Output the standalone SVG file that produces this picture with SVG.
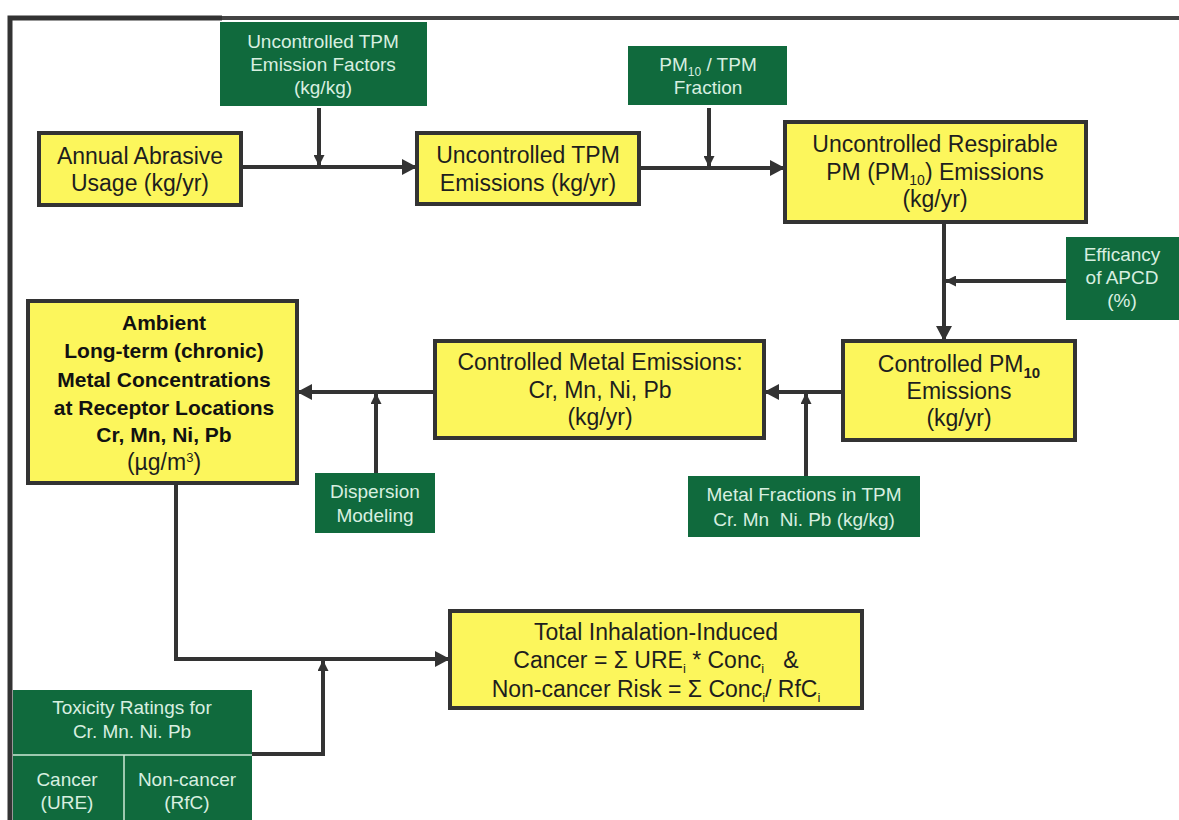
<svg xmlns="http://www.w3.org/2000/svg" width="1179" height="820" viewBox="0 0 1179 820">
<style>
.y{fill:#fcf65c;stroke:#333;stroke-width:4}
.g{fill:#106a3d}
.ty{font-family:"Liberation Sans",Arial,sans-serif;font-size:23px;fill:#1e1e1e;text-anchor:middle}
.tb{font-family:"Liberation Sans",Arial,sans-serif;font-size:21px;font-weight:bold;fill:#111;text-anchor:middle}
.tg{font-family:"Liberation Sans",Arial,sans-serif;font-size:19px;fill:#d8efe0;text-anchor:middle}
.c{fill:none;stroke:#333;stroke-width:4}
.f{fill:none;stroke:#333;stroke-width:5}
</style>
<defs>
<marker id="ab" markerUnits="userSpaceOnUse" markerWidth="15" markerHeight="16" refX="14" refY="8" orient="auto"><path d="M0,0 L15,8 L0,16 z" fill="#333"/></marker>
<marker id="as" markerUnits="userSpaceOnUse" markerWidth="11" markerHeight="11" refX="10" refY="5.5" orient="auto"><path d="M0,0 L11,5.5 L0,11 z" fill="#333"/></marker>
</defs>
<rect width="1179" height="820" fill="#fff"/>
<g id="frame">
<path class="f" d="M10,820 V18 H222"/>
<path d="M222,18 H1179" stroke="#444" stroke-width="4"/>
</g>
<g id="connectors">
<path class="c" d="M241,167 H416" marker-end="url(#ab)"/>
<path class="c" d="M319,108 V165" marker-end="url(#as)"/>
<path class="c" d="M639,168 H784" marker-end="url(#ab)"/>
<path class="c" d="M709,108 V166" marker-end="url(#as)"/>
<path class="c" d="M944,222 V340" marker-end="url(#ab)"/>
<path class="c" d="M1066,281 H946" marker-end="url(#as)"/>
<path class="c" d="M843,392 H765" marker-end="url(#ab)"/>
<path class="c" d="M806,476 V394" marker-end="url(#as)"/>
<path class="c" d="M435,392 H298" marker-end="url(#ab)"/>
<path class="c" d="M376,473 V394" marker-end="url(#as)"/>
<path class="c" d="M176,483 V659 H449" marker-end="url(#ab)"/>
<path class="c" d="M252,754 H323 V661" marker-end="url(#as)"/>
</g>
<g id="ef">
<rect class="g" x="220" y="22" width="207" height="84"/>
<text class="tg" x="323" y="48">Uncontrolled TPM</text>
<text class="tg" x="323" y="71">Emission Factors</text>
<text class="tg" x="323" y="94">(kg/kg)</text>
</g>
<g id="usage">
<rect class="y" x="39" y="133" width="202" height="72"/>
<text class="ty" x="140" y="164">Annual Abrasive</text>
<text class="ty" x="140" y="191">Usage (kg/yr)</text>
</g>
<g id="tpm">
<rect class="y" x="417" y="133" width="222" height="71"/>
<text class="ty" x="528" y="163">Uncontrolled TPM</text>
<text class="ty" x="528" y="191">Emissions (kg/yr)</text>
</g>
<g id="frac">
<rect class="g" x="628" y="46" width="159" height="59"/>
<text class="tg" x="708" y="71">PM<tspan font-size="12" dy="5">10</tspan><tspan dy="-5"> / TPM</tspan></text>
<text class="tg" x="708" y="94">Fraction</text>
</g>
<g id="resp">
<rect class="y" x="785" y="122" width="301" height="100"/>
<text class="ty" x="935" y="152">Uncontrolled Respirable</text>
<text class="ty" x="935" y="180">PM (PM<tspan font-size="14" dy="5">10</tspan><tspan dy="-5">) Emissions</tspan></text>
<text class="ty" x="935" y="207">(kg/yr)</text>
</g>
<g id="apcd">
<rect class="g" x="1066" y="237" width="113" height="83"/>
<text class="tg" x="1122" y="261">Efficancy</text>
<text class="tg" x="1122" y="284">of APCD</text>
<text class="tg" x="1122" y="307">(%)</text>
</g>
<g id="cpm">
<rect class="y" x="843" y="341" width="232" height="99"/>
<text class="ty" x="959" y="372">Controlled PM<tspan font-size="15" font-weight="bold" dy="6">10</tspan></text>
<text class="ty" x="959" y="399">Emissions</text>
<text class="ty" x="959" y="426">(kg/yr)</text>
</g>
<g id="cme">
<rect class="y" x="435" y="341" width="329" height="97"/>
<text class="ty" x="600" y="370">Controlled Metal Emissions:</text>
<text class="ty" x="600" y="398">Cr, Mn, Ni, Pb</text>
<text class="ty" x="600" y="425">(kg/yr)</text>
</g>
<g id="mf">
<rect class="g" x="688" y="476" width="232" height="61"/>
<text class="tg" x="804" y="501">Metal Fractions in TPM</text>
<text class="tg" x="804" y="526" xml:space="preserve">Cr. Mn  Ni. Pb (kg/kg)</text>
</g>
<g id="amb">
<rect class="y" x="28" y="301" width="269" height="182"/>
<text class="tb" x="164" y="330">Ambient</text>
<text class="tb" x="164" y="358">Long-term (chronic)</text>
<text class="tb" x="164" y="387">Metal Concentrations</text>
<text class="tb" x="164" y="415">at Receptor Locations</text>
<text class="tb" x="164" y="442">Cr, Mn, Ni, Pb</text>
<text class="ty" x="164" y="470" font-size="21">(µg/m<tspan font-size="13" dy="-8">3</tspan><tspan dy="8">)</tspan></text>
</g>
<g id="disp">
<rect class="g" x="315" y="473" width="120" height="60"/>
<text class="tg" x="375" y="498">Dispersion</text>
<text class="tg" x="375" y="522">Modeling</text>
</g>
<g id="risk">
<rect class="y" x="450" y="611" width="412" height="97"/>
<text class="ty" x="656" y="640">Total Inhalation-Induced</text>
<text class="ty" x="656" y="668">Cancer = Σ URE<tspan font-size="13" dy="5">i</tspan><tspan dy="-5"> * Conc</tspan><tspan font-size="13" dy="5">i</tspan><tspan dy="-5" xml:space="preserve">   &amp;</tspan></text>
<text class="ty" x="656" y="697">Non-cancer Risk = Σ Conc<tspan font-size="13" dy="5">i</tspan><tspan dy="-5">/ RfC</tspan><tspan font-size="13" dy="5">i</tspan></text>
</g>
<g id="tox">
<rect class="g" x="13" y="690" width="239" height="130"/>
<path d="M13,755 H252 M124,755 V820" stroke="#cde9d6" stroke-width="1.5"/>
<text class="tg" x="132" y="714">Toxicity Ratings for</text>
<text class="tg" x="132" y="738">Cr. Mn. Ni. Pb</text>
<text class="tg" x="67" y="786">Cancer</text>
<text class="tg" x="67" y="809">(URE)</text>
<text class="tg" x="187" y="786">Non-cancer</text>
<text class="tg" x="187" y="809">(RfC)</text>
</g>
</svg>
